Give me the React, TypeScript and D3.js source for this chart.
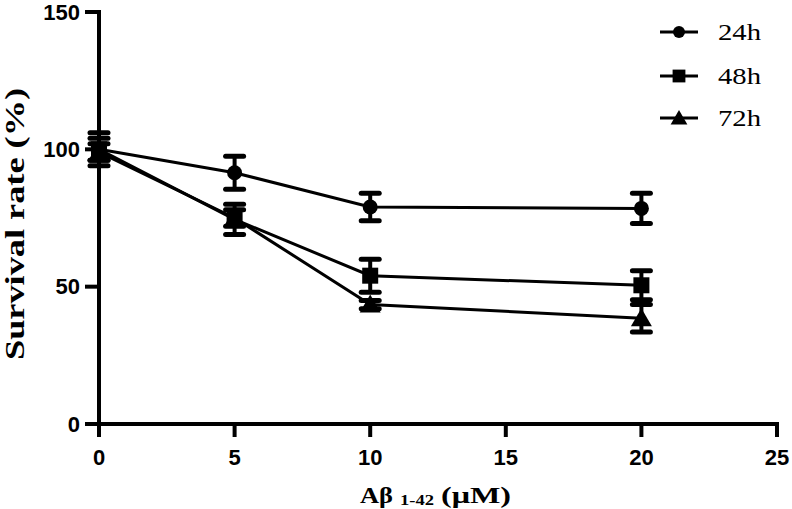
import React from "react";
import * as d3 from "d3";

const concentrations = [0, 5, 10, 20];
const seriesNames = ["24h", "48h", "72h"];
const mean24 = [100, 91.5, 79, 78.5];
const err24 = [4, 6, 5, 5.5];
const mean48 = [100, 74.5, 54, 50.5];
const err48 = [6, 5.5, 6, 5.3];
const mean72 = [99, 75, 43.5, 38.5];
const err72 = [3, 3, 1.5, 5];
const xTicks = [0, 5, 10, 15, 20, 25];
const yTicks = [0, 50, 100, 150];

const W = 792;
const H = 509;

export default function App() {
  const x = d3.scaleLinear().domain([0, 25]).range([99, 777]);
  const y = d3.scaleLinear().domain([0, 150]).range([424, 12]);
  const series = [
    { name: seriesNames[0], mean: mean24, err: err24, shape: "circle" },
    { name: seriesNames[1], mean: mean48, err: err48, shape: "square" },
    { name: seriesNames[2], mean: mean72, err: err72, shape: "triangle" },
  ];
  const line = d3
    .line<number>()
    .x((_, i) => x(concentrations[i]))
    .y((d) => y(d));

  const marker = (shape: string, cx: number, cy: number, scale = 1) => {
    if (shape === "circle") return <circle cx={cx} cy={cy} r={7.5 * scale} fill="#000" />;
    if (shape === "square") {
      const s = 16 * scale;
      return <rect x={cx - s / 2} y={cy - s / 2} width={s} height={s} fill="#000" />;
    }
    const p = d3.symbol(d3.symbolTriangle, 190 * scale * scale)();
    return <path d={p || ""} transform={`translate(${cx},${cy + 2 * scale})`} fill="#000" />;
  };

  const legendY = [32, 76, 118];
  const serif = "Liberation Serif, Times New Roman, serif";
  const sans = "Liberation Sans, Arial, sans-serif";

  return (
    <svg width={W} height={H} style={{ position: "absolute", left: 0, top: 0, background: "#fff" }}>
      {/* axes */}
      <line x1={99} y1={10} x2={99} y2={426} stroke="#000" strokeWidth={4} />
      <line x1={97} y1={424} x2={779} y2={424} stroke="#000" strokeWidth={4} />
      {yTicks.map((t) => (
        <g key={"y" + t}>
          <line x1={85} y1={y(t)} x2={99} y2={y(t)} stroke="#000" strokeWidth={4} />
          <text x={80} y={y(t)} textAnchor="end" dominantBaseline="central" fontFamily={sans} fontWeight="bold" fontSize={22}>
            {t}
          </text>
        </g>
      ))}
      {xTicks.map((t) => (
        <g key={"x" + t}>
          <line x1={x(t)} y1={424} x2={x(t)} y2={437} stroke="#000" strokeWidth={4} />
          <text x={x(t)} y={465} textAnchor="middle" fontFamily={sans} fontWeight="bold" fontSize={22}>
            {t}
          </text>
        </g>
      ))}
      {/* axis titles */}
      <text
        transform={`translate(24,224) rotate(-90)`}
        textAnchor="middle"
        fontFamily={serif}
        fontWeight="bold"
        fontSize={28}
        textLength={272}
        lengthAdjust="spacingAndGlyphs"
      >
        Survival rate (%)
      </text>
      <text x={360} y={503} fontFamily={serif} fontWeight="bold" fontSize={24} textLength={33} lengthAdjust="spacingAndGlyphs">
        Aβ
      </text>
      <text x={400} y={505} fontFamily={serif} fontWeight="bold" fontSize={15} textLength={34} lengthAdjust="spacingAndGlyphs">
        1-42
      </text>
      <text x={441} y={503} fontFamily={serif} fontWeight="bold" fontSize={24} textLength={70} lengthAdjust="spacingAndGlyphs">
        (μM)
      </text>
      {/* series */}
      {series.map((s) => (
        <g key={s.name}>
          <path d={line(s.mean) || ""} fill="none" stroke="#000" strokeWidth={3} />
          {s.mean.map((m, i) => {
            const cx = x(concentrations[i]);
            const top = y(m + s.err[i]);
            const bot = y(m - s.err[i]);
            return (
              <g key={i}>
                <line x1={cx} y1={top} x2={cx} y2={bot} stroke="#000" strokeWidth={4} />
                <line x1={cx - 9} y1={top} x2={cx + 9} y2={top} stroke="#000" strokeWidth={5} strokeLinecap="round" />
                <line x1={cx - 9} y1={bot} x2={cx + 9} y2={bot} stroke="#000" strokeWidth={5} strokeLinecap="round" />
                {marker(s.shape, cx, y(m))}
              </g>
            );
          })}
        </g>
      ))}
      {/* legend */}
      {series.map((s, i) => (
        <g key={"leg" + s.name}>
          <line x1={660} y1={legendY[i]} x2={698} y2={legendY[i]} stroke="#000" strokeWidth={3} />
          {marker(s.shape, 679, legendY[i], 0.8)}
          <text
            x={718}
            y={legendY[i] + 8}
            fontFamily={serif}
            fontSize={23}
            textLength={43}
            lengthAdjust="spacingAndGlyphs"
          >
            {s.name}
          </text>
        </g>
      ))}
    </svg>
  );
}
